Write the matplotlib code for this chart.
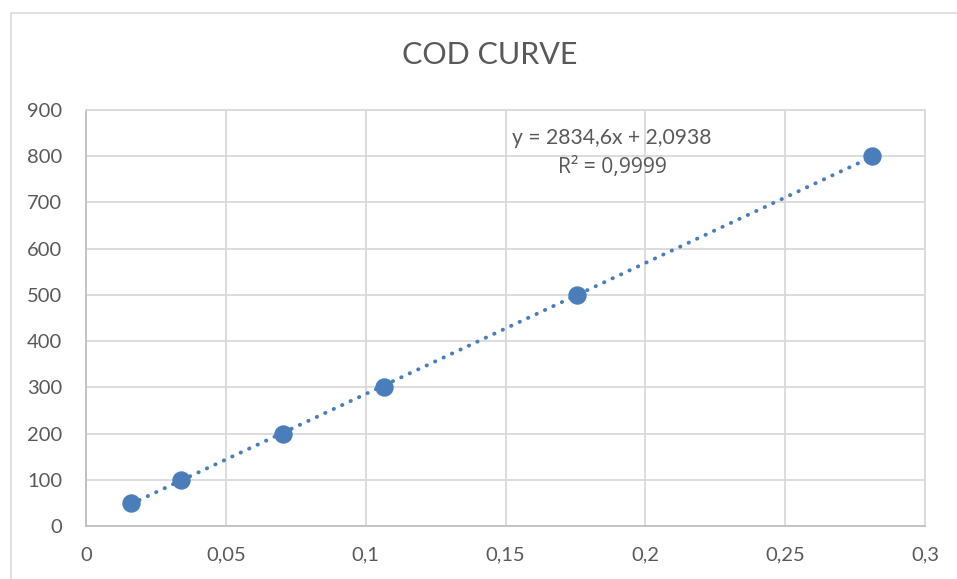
import matplotlib.pyplot as plt
import numpy as np
from matplotlib.ticker import FuncFormatter, MultipleLocator
from matplotlib.patches import Rectangle

plt.rcParams['font.family'] = ['Lato', 'DejaVu Sans']

# data
absorbance = [0.016, 0.034, 0.0705, 0.1065, 0.1755, 0.281]
cod = [50, 100, 200, 300, 500, 800]
slope = 2834.6
intercept = 2.0938
eq_text = "y = 2834,6x + 2,0938"
r2_text = "R² = 0,9999"

blue = '#4A7EBB'
txt = '#595959'
grid = '#d9d9d9'

fig = plt.figure(figsize=(9.57, 5.79), dpi=100)
ax = fig.add_axes([86 / 957, 53 / 579, 839 / 957, 416 / 579])

# chart outer border, runs off the bottom/right edge of the image
fig.patches.append(Rectangle((10.5 / 957, -0.2), 1.2, 1.2 - 12.5 / 579,
                             transform=fig.transFigure, fill=False,
                             edgecolor=grid, linewidth=1.2))

# linear trendline from first to last point
xs = np.array([absorbance[0], absorbance[-1]])
ax.plot(xs, slope * xs + intercept, color=blue, linestyle=(0, (0.1, 2.3)),
        linewidth=2.8, dash_capstyle='round', zorder=2)
ax.scatter(absorbance, cod, s=150, color=blue, edgecolor=blue, zorder=3)

ax.set_xlim(0, 0.3)
ax.set_ylim(0, 900)
ax.xaxis.set_major_locator(MultipleLocator(0.05))
ax.yaxis.set_major_locator(MultipleLocator(100))
ax.xaxis.set_major_formatter(FuncFormatter(lambda v, p: ('%g' % round(v, 4)).replace('.', ',')))

ax.grid(True, color=grid, linewidth=1.3, zorder=0)
ax.set_axisbelow(True)
for s in ['top', 'right']:
    ax.spines[s].set_color(grid)
    ax.spines[s].set_linewidth(1.3)
for s in ['left', 'bottom']:
    ax.spines[s].set_color('#bfbfbf')
    ax.spines[s].set_linewidth(1.3)

ax.tick_params(length=0, labelsize=14.5, labelcolor=txt)
ax.tick_params(axis='x', pad=15)
ax.tick_params(axis='y', pad=17)

fig.text(490 / 957, 1 - 55 / 579, 'COD CURVE', ha='center', va='center',
         fontsize=22, color=txt)
fig.text(612 / 957, 1 - 138 / 579, eq_text, ha='center', va='center',
         fontsize=15.2, color=txt)
fig.text(612 / 957, 1 - 167 / 579, r2_text, ha='center', va='center',
         fontsize=15.2, color=txt, family=['Open Sans', 'DejaVu Sans'])

fig.savefig('out.png', dpi=100)
